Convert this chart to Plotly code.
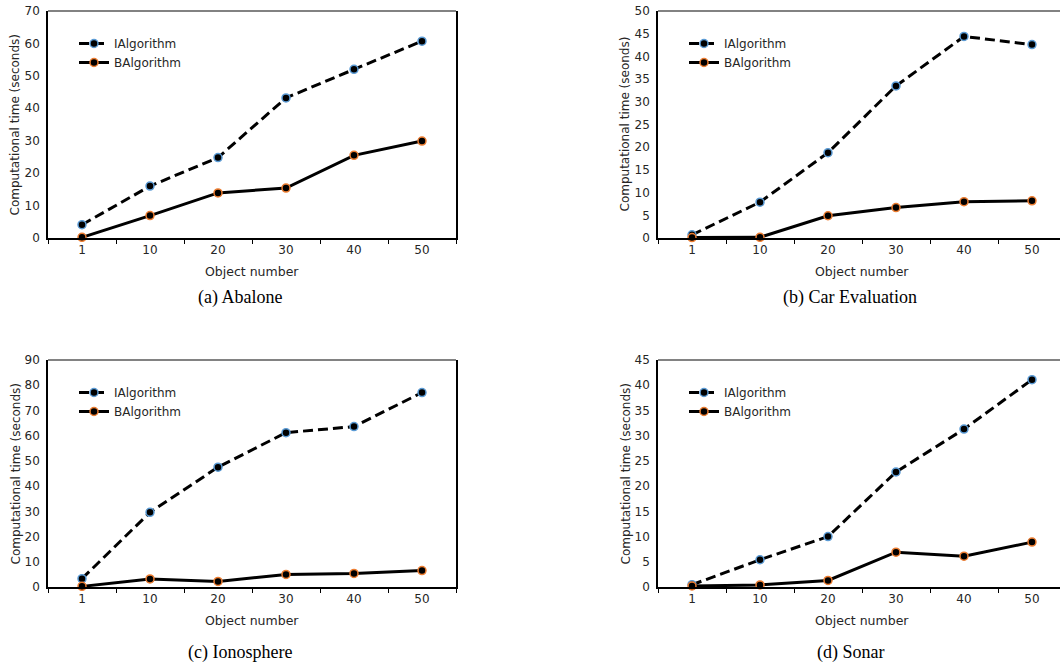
import plotly.graph_objects as go

W, H = 1060, 666

categories = ["1", "10", "20", "30", "40", "50"]

abalone_i = [4.1, 16.0, 24.8, 43.2, 52.0, 60.7]
abalone_b = [0.2, 6.9, 13.9, 15.4, 25.5, 29.9]

car_i = [0.7, 7.9, 18.8, 33.5, 44.4, 42.6]
car_b = [0.1, 0.15, 4.9, 6.7, 8.0, 8.2]

iono_i = [3.3, 29.6, 47.5, 61.2, 63.6, 77.1]
iono_b = [0.25, 3.2, 2.2, 5.0, 5.4, 6.5]

sonar_i = [0.45, 5.4, 10.0, 22.8, 31.3, 41.1]
sonar_b = [0.2, 0.4, 1.3, 6.9, 6.1, 8.9]

series_names = ["IAlgorithm", "BAlgorithm"]
captions = ["(a) Abalone", "(b) Car Evaluation", "(c) Ionosphere", "(d) Sonar"]
y_titles = ["Computational time (seconds)", "Computational time (seonds)",
            "Computational time (seconds)", "Computational time (seconds)"]
x_title = "Object number"
y_max = [70, 50, 90, 45]
y_step = [10, 5, 10, 5]

panels = [
    (abalone_i, abalone_b),
    (car_i, car_b),
    (iono_i, iono_b),
    (sonar_i, sonar_b),
]

# pixel boxes: left, right, top, bottom
boxes = [
    (48, 456, 11, 238),
    (658, 1066, 11, 238),
    (48, 456, 360, 587),
    (658, 1066, 360, 587),
]
caption_y = [297, 297, 652, 652]

TICK_FONT = dict(family="DejaVu Sans", size=12, color="#262626")
fig = go.Figure()

for k, ((yi, yb), (l, r, t, b)) in enumerate(zip(panels, boxes)):
    n = k + 1
    xa = "x" if n == 1 else f"x{n}"
    ya = "y" if n == 1 else f"y{n}"
    lg = "legend" if n == 1 else f"legend{n}"
    fig.add_trace(go.Scatter(
        x=categories, y=yi, name=series_names[0], mode="lines+markers",
        xaxis=xa, yaxis=ya, legend=lg, cliponaxis=False,
        line=dict(color="black", width=3, dash="10px,5px"),
        marker=dict(color="black", size=8, line=dict(color="#5b9bd5", width=1.5)),
    ))
    fig.add_trace(go.Scatter(
        x=categories, y=yb, name=series_names[1], mode="lines+markers",
        xaxis=xa, yaxis=ya, legend=lg, cliponaxis=False,
        line=dict(color="black", width=3),
        marker=dict(color="black", size=8, line=dict(color="#ed7d31", width=1.5)),
    ))
    x0 = l / W
    x1 = min(r, W) / W
    xr_hi = 5.5 - max(0, r - W) / ((r - l) / 6.0)
    xaxis = dict(
        domain=[x0, x1], anchor=ya, type="category", range=[-0.5, xr_hi],
        showline=True, linecolor="black", linewidth=1.8, ticks="outside",
        tickson="boundaries", ticklen=4, tickcolor="black", tickwidth=1.2,
        showgrid=False, zeroline=False, tickfont=TICK_FONT, fixedrange=True,
        automargin=False,
    )
    yaxis = dict(
        domain=[1 - b / H, 1 - t / H], anchor=xa, range=[0, y_max[k]],
        dtick=y_step[k], tick0=0, showline=True, linecolor="black", linewidth=1.5,
        mirror=(r <= W), ticks="", showgrid=False, zeroline=False,
        tickfont=TICK_FONT, ticklabelstandoff=4, fixedrange=True,
        automargin=False,
    )
    key = "" if n == 1 else str(n)
    fig.update_layout(**{f"xaxis{key}": xaxis, f"yaxis{key}": yaxis})

    # top border
    fig.add_shape(type="line", xref=f"{xa} domain", yref=f"{ya} domain",
                  x0=0, x1=1, y0=1, y1=1, line=dict(color="#595959", width=1.5))

    fig.update_layout(**{lg: dict(
        x=(l + 26) / W, y=1 - (t + 18) / H, xanchor="left", yanchor="top",
        bgcolor="rgba(0,0,0,0)", font=dict(family="DejaVu Sans", size=12, color="#262626"),
        tracegroupgap=0, itemwidth=30,
    )})

    cx = (l + min(r, 1066)) / 2
    fig.add_annotation(text=x_title, x=cx / W, y=1 - (b + 33) / H, xref="paper", yref="paper",
                       showarrow=False, xanchor="center", yanchor="middle",
                       font=dict(family="DejaVu Sans", size=12.5, color="#262626"))
    fig.add_annotation(text=y_titles[k], x=(l - 33) / W, y=1 - ((t + b) / 2) / H,
                       xref="paper", yref="paper", showarrow=False, textangle=-90,
                       xanchor="center", yanchor="middle",
                       font=dict(family="DejaVu Sans", size=12, color="#262626"))
    fig.add_annotation(text=captions[k], x=(cx - 12) / W, y=1 - caption_y[k] / H,
                       xref="paper", yref="paper",
                       showarrow=False, xanchor="center", yanchor="middle",
                       font=dict(family="Liberation Serif", size=18, color="black"))

fig.update_layout(
    width=W, height=H, margin=dict(l=0, r=0, t=0, b=0, autoexpand=False),
    paper_bgcolor="white", plot_bgcolor="white", showlegend=True,
)

fig.write_html(
    "out.html",
    config={"displayModeBar": False},
    post_script=(
        "document.documentElement.style.margin='0';"
        "document.body.style.margin='0';document.body.style.padding='0';"
        "document.body.style.overflow='hidden';"
        "document.documentElement.style.overflow='hidden';"
        "var gd=document.getElementById('{plot_id}');"
        "gd.style.position='fixed';gd.style.top='0px';gd.style.left='0px';"
    ),
)
